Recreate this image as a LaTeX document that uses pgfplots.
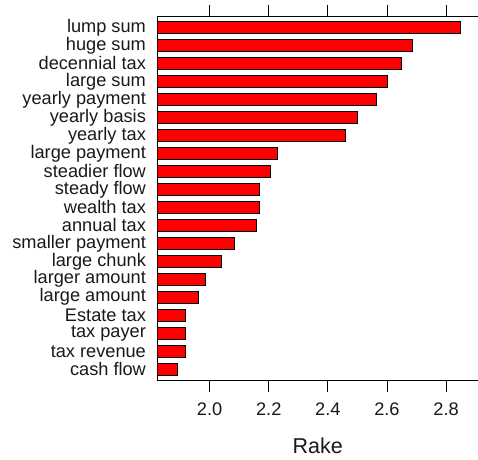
\documentclass[border=0pt]{standalone}
\usepackage{pgfplots}
\pgfplotsset{compat=1.18}
\usepackage{fontspec}
\setmainfont{Liberation Sans}
\begin{document}
\begin{tikzpicture}
\useasboundingbox (-157.3bp,-80bp) rectangle (320.7bp,380bp);
\begin{axis}[
  at={(0,0)}, anchor=south west,
  scale only axis,
  width=320.7bp, height=363.3bp,
  xmin=1.823, xmax=2.908,
  ymin=0.4, ymax=20.6,
  axis x line=box, axis y line=left,
  axis line style={black, line width=0.9bp, -},
  xtick={2.0,2.2,2.4,2.6,2.8},
  xtick pos=both, xticklabel pos=lower,
  tick align=outside,
  major tick length=11.7bp,
  x tick style={black, line width=0.9bp},
  ytick={1,...,20},
  y tick style={draw=none},
  yticklabels={cash flow, tax revenue, tax payer, Estate tax, large amount, larger amount, large chunk, smaller payment, annual tax, wealth tax, steady flow, steadier flow, large payment, yearly tax, yearly basis, yearly payment, large sum, decennial tax, huge sum, lump sum},
  /pgf/number format/.cd, fixed, fixed zerofill, precision=1, assume math mode=true,
  /pgfplots/.cd,
  tick label style={font=\fontsize{18.2bp}{20bp}\selectfont, text=black!90},
  xticklabel style={inner sep=0pt, anchor=north, yshift=-11bp},
  yticklabel style={inner sep=0pt, anchor=east, xshift=0.5bp},
  xlabel={Rake},
  xlabel style={font=\fontsize{21.5bp}{24bp}\selectfont, text=black!90, at={(axis description cs:0.5,0)}, anchor=center, yshift=-66bp},
  clip=true,
]
\addplot[xbar, bar width=12bp, bar shift=0pt, fill=red, draw=black, line width=1bp] coordinates {
(2.849,20) (2.688,19) (2.648,18) (2.601,17) (2.563,16) (2.502,15) (2.460,14)
(2.230,13) (2.206,12) (2.170,11) (2.169,10) (2.157,9) (2.083,8) (2.041,7)
(1.985,6) (1.963,5) (1.917,4) (1.917,3) (1.917,2) (1.890,1)
};
\end{axis}
\end{tikzpicture}
\end{document}
